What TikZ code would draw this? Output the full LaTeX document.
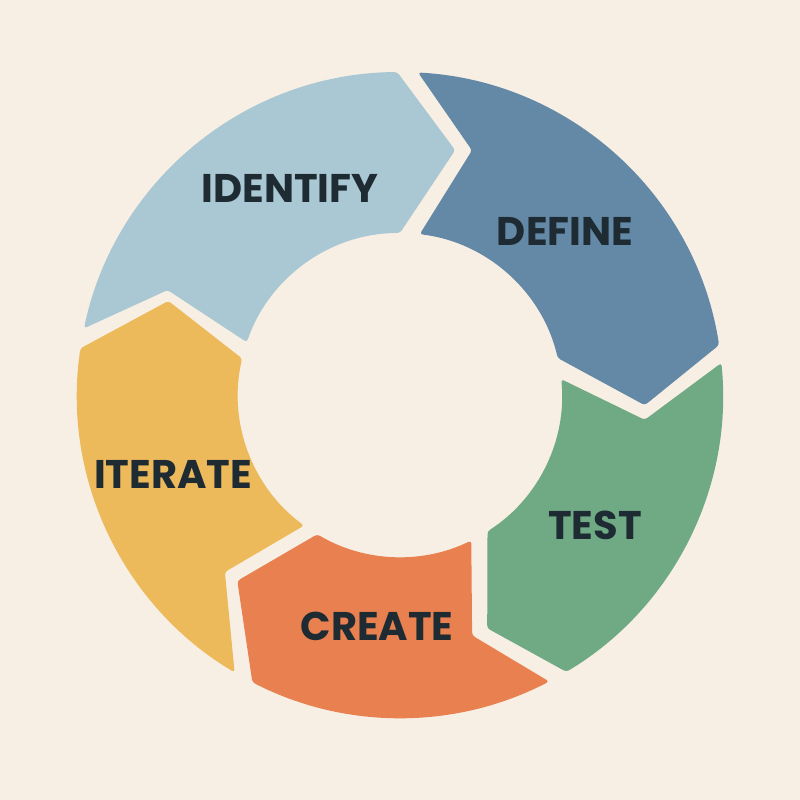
\documentclass[tikz,border=0pt]{standalone}
\usepackage{fontspec}
\setmainfont{Poppins}[BoldFont={Poppins Bold}]
\definecolor{bgc}{HTML}{F8EFE4}
\definecolor{idc}{HTML}{A9C8D3}
\definecolor{dfc}{HTML}{6389A7}
\definecolor{tsc}{HTML}{6FAA85}
\definecolor{crc}{HTML}{E8804F}
\definecolor{itc}{HTML}{ECBA5B}
\definecolor{txc}{HTML}{1E2B33}
\begin{document}
\begin{tikzpicture}[x=1pt,y=1pt,
  seg/.style={rounded corners=3pt},
  lbl/.style={text=txc,font=\fontsize{40}{42}\selectfont\bfseries,inner sep=0pt}]
\useasboundingbox (0,0) rectangle (800,800);
\fill[bgc] (0,0) rectangle (800,800);
\begin{scope}[shift={(400,405)}]
\fill[idc,seg] (168.1:323) arc[start angle=168.1, end angle=90.5, radius=323] -- (77.3:251) -- (90:162) arc[start angle=90, end angle=161, radius=162] -- (155.7:255) -- cycle;
\fill[dfc,seg] (86.8:323) arc[start angle=86.8, end angle=8.9, radius=323] -- (-2.4:245) -- (13.2:162) arc[start angle=13.2, end angle=83, radius=162] -- (73.6:255) -- cycle;
\fill[tsc,seg] (5.7:323) arc[start angle=5.7, end angle=-59, radius=323] -- (-69.5:249) -- (-57.3:162) arc[start angle=-57.3, end angle=5.6, radius=162] -- (-5.8:246) -- cycle;
\fill[crc,seg] (-62.5:323) arc[start angle=-62.5, end angle=-117.2, radius=323] -- (-131.2:247) -- (-120.7:162) arc[start angle=-120.7, end angle=-63.9, radius=162] -- (-73.3:251) -- cycle;
\fill[itc,seg] (239.2:323) arc[start angle=239.2, end angle=171.7, radius=323] -- (157.9:250) -- (167:162) arc[start angle=167, end angle=233.7, radius=162] -- (225.3:249) -- cycle;
\end{scope}
\node[lbl] (identify) at (290,612) {IDENTIFY};
\node[lbl] (define) at (565,569) {DEFINE};
\node[lbl] (test) at (595,275) {TEST};
\node[lbl] (create) at (377,174) {CREATE};
\node[lbl] (iterate) at (173,326) {ITERATE};
\end{tikzpicture}
\end{document}
